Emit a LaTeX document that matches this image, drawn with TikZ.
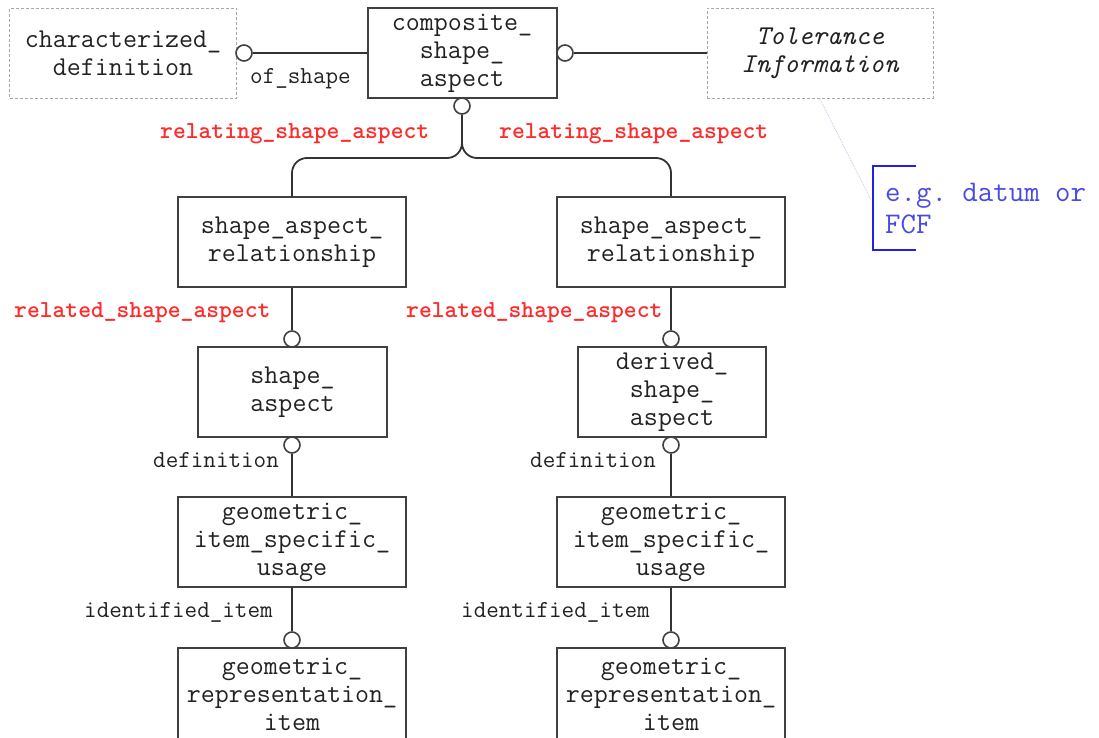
\documentclass[tikz,border=0pt]{standalone}
\usepackage{fontspec}
\definecolor{boxc}{HTML}{404040}
\definecolor{linec}{HTML}{333333}
\definecolor{txtc}{HTML}{222222}
\definecolor{dashc}{HTML}{A8A8A8}
\definecolor{redc}{HTML}{FF2A2A}
\definecolor{bluec}{HTML}{2020EE}
\definecolor{notec}{HTML}{4A4AE6}
\definecolor{dotc}{HTML}{C0C0EE}
\newcommand\boxfont{\ttfamily\fontsize{27.2}{28}\selectfont}
\newcommand\labfont{\ttfamily\fontsize{24.4}{26}\selectfont}
\newcommand\notefont{\ttfamily\fontsize{30}{32}\selectfont}
\begin{document}
\frenchspacing
\begin{tikzpicture}[x=1pt,y=-1pt,
  box/.style={draw=boxc, line width=2pt, fill=white, inner sep=0pt, align=center, font=\boxfont, text=txtc},
  dbox/.style={draw=dashc, line width=1pt, dash pattern=on 3pt off 2pt, inner sep=0pt, align=center, font=\boxfont, text=txtc},
  oc/.style={circle, draw=boxc, line width=1.6pt, fill=white, minimum size=16pt, inner sep=0pt},
  conn/.style={draw=linec, line width=1.8pt},
  rlab/.style={font=\labfont\bfseries, text=redc, inner sep=0pt, anchor=base west},
  blab/.style={font=\labfont, text=txtc, inner sep=0pt, anchor=base west},
  note/.style={font=\notefont, text=notec, inner sep=0pt, anchor=west, align=left},
  bracket/.style={draw=bluec, line width=2pt},
  dotline/.style={draw=dotc, line width=0.8pt, densely dotted}
]
\path[use as bounding box, clip] (0,0) rectangle (1099,738);

% top row
\node[dbox, minimum width=227, minimum height=90] (chardef) at (123,53.5) {characterized\_\\definition};
\node[box, minimum width=189, minimum height=90] (comp) at (462,53) {composite\_\\shape\_\\aspect};
\node[dbox, font=\boxfont\itshape, minimum width=226, minimum height=90] (tol) at (820,53.5) {Tolerance\\Information};

\node[oc] (c1) at (244,53) {};
\node[oc] (c2) at (565,53) {};
\node[oc] (c3) at (462,106) {};
\draw[conn] (c1) -- (comp);
\draw[conn] (c2) -- (c2 -| tol.west);
\node[blab] (lofshape) at (250,84) {of\_shape};

% relating
\node[rlab] (lrel1) at (160,139) {relating\_shape\_aspect};
\node[rlab] (lrel2) at (499,139) {relating\_shape\_aspect};

\node[box, minimum width=228, minimum height=90] (sar1) at (292,242) {shape\_aspect\_\\relationship};
\node[box, minimum width=228, minimum height=90] (sar2) at (671,242) {shape\_aspect\_\\relationship};
\draw[conn, rounded corners=15] (c3.south) -- (462,158) -- (292,158) -- (sar1.north);
\draw[conn, rounded corners=15] (c3.south) -- (462,158) -- (671,158) -- (sar2.north);

% related
\node[oc] (c4) at (292,339) {};
\node[oc] (c5) at (671,339) {};
\draw[conn] (sar1) -- (c4);
\draw[conn] (sar2) -- (c5);
\node[rlab] (lrd1) at (14,317) {related\_shape\_aspect};
\node[rlab] (lrd2) at (406,317) {related\_shape\_aspect};

\node[box, minimum width=189, minimum height=90] (sa) at (292.5,392) {shape\_\\aspect};
\node[box, minimum width=188, minimum height=90] (dsa) at (672,392) {derived\_\\shape\_\\aspect};

% definition
\node[oc] (c6) at (292,445) {};
\node[oc] (c7) at (671,445) {};
\node[blab] (ldef1) at (153,467) {definition};
\node[blab] (ldef2) at (530,467) {definition};

\node[box, minimum width=228, minimum height=90] (g1) at (292,542) {geometric\_\\item\_specific\_\\usage};
\node[box, minimum width=228, minimum height=90] (g2) at (671,542) {geometric\_\\item\_specific\_\\usage};
\draw[conn] (c6) -- (g1);
\draw[conn] (c7) -- (g2);

% identified item
\node[oc] (c8) at (292,640) {};
\node[oc] (c9) at (671,640) {};
\draw[conn] (g1) -- (c8);
\draw[conn] (g2) -- (c9);
\node[blab] (lid1) at (84,617) {identified\_item};
\node[blab] (lid2) at (461,617) {identified\_item};

\node[box, minimum width=228, minimum height=92] (r1) at (292,694) {geometric\_\\representation\_\\item};
\node[box, minimum width=228, minimum height=92] (r2) at (671,694) {geometric\_\\representation\_\\item};

% note
\coordinate (bt) at (916,166);
\coordinate (bb) at (916,250);
\coordinate (np) at (871,200);
\draw[bracket] (bt) -- (873,166) -- (873,250) -- (bb);
\node[note] (notetxt) at (885,209) {e.g. datum or\\FCF};
\draw[dotline] (tol.south) -- (np);
\end{tikzpicture}
\end{document}
